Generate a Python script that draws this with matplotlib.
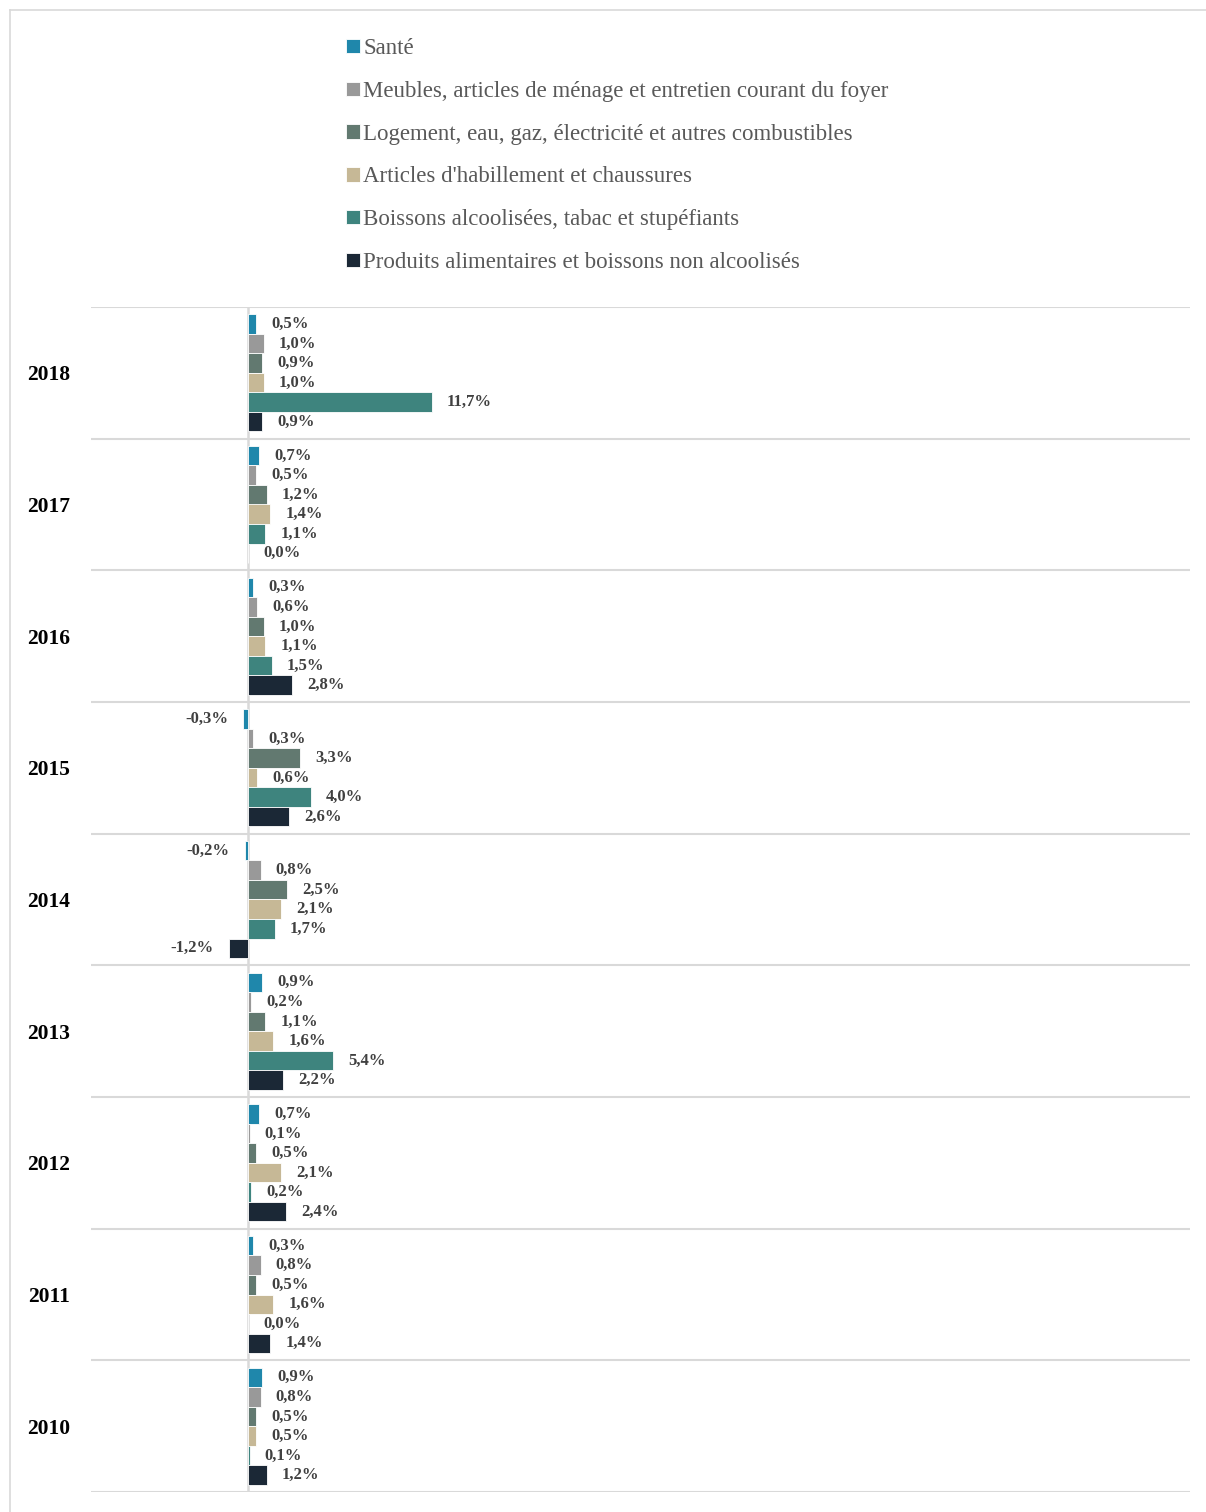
import matplotlib.pyplot as plt
from matplotlib.lines import Line2D
import numpy as np

years = ["2018", "2017", "2016", "2015", "2014", "2013", "2012", "2011", "2010"]
series_names = [
    "Santé",
    "Meubles, articles de ménage et entretien courant du foyer",
    "Logement, eau, gaz, électricité et autres combustibles",
    "Articles d'habillement et chaussures",
    "Boissons alcoolisées, tabac et stupéfiants",
    "Produits alimentaires et boissons non alcoolisés",
]
sante = [0.5, 0.7, 0.3, -0.3, -0.2, 0.9, 0.7, 0.3, 0.9]
meubles = [1.0, 0.5, 0.6, 0.3, 0.8, 0.2, 0.1, 0.8, 0.8]
logement = [0.9, 1.2, 1.0, 3.3, 2.5, 1.1, 0.5, 0.5, 0.5]
habillement = [1.0, 1.4, 1.1, 0.6, 2.1, 1.6, 2.1, 1.6, 0.5]
boissons = [11.7, 1.1, 1.5, 4.0, 1.7, 5.4, 0.2, 0.0, 0.1]
alimentaires = [0.9, 0.0, 2.8, 2.6, -1.2, 2.2, 2.4, 1.4, 1.2]
colors = ["#1f87ab", "#999999", "#627970", "#c6b896", "#3e847e", "#1b2836"]

all_series = [sante, meubles, logement, habillement, boissons, alimentaires]

plt.rcParams['font.family'] = ['Liberation Serif', 'DejaVu Serif']

fig = plt.figure(figsize=(12.06, 15.12), dpi=100)
ax = fig.add_axes([91 / 1206, 1 - 1492 / 1512, (1190 - 91) / 1206, (1492 - 307) / 1512])

y = np.arange(len(years))
h = 0.89 / 6
handles = []
for j, (vals, name, col) in enumerate(zip(all_series, series_names, colors)):
    pos = y + (j - 2.5) * h
    bars = ax.barh(pos, vals, height=h, color=col, edgecolor='white', linewidth=0.6, label=name)
    handles.append(bars)
    for p, v in zip(pos, vals):
        txt = f"{v:.1f}%".replace('.', ',')
        if v < 0:
            ax.annotate(txt, (v, p), xytext=(-11, 0), textcoords='offset points',
                        ha='right', va='center', fontsize=12, fontweight='bold', color='#404040')
        else:
            ax.annotate(txt, (v, p), xytext=(11, 0), textcoords='offset points',
                        ha='left', va='center', fontsize=12, fontweight='bold', color='#404040')

ax.set_xlim(-10, 60)
ax.set_ylim(len(years) - 0.5, -0.5)
ax.set_xticks([])
ax.set_yticks(y)
ax.set_yticklabels(years, fontsize=15.5, fontweight='bold', color='black')
ax.tick_params(axis='y', length=0, pad=15)
ax.set_yticks(np.arange(-0.5, len(years)), minor=True)
ax.tick_params(axis='y', which='minor', length=0)
ax.grid(which='minor', axis='y', color='#d9d9d9', linewidth=1.5)
ax.axvline(0, color='#d9d9d9', linewidth=1.8, zorder=0.5)
for s in ax.spines.values():
    s.set_visible(False)

# legend at top
fig.legend(handles=handles, labels=series_names, loc='upper left',
           bbox_to_anchor=(337 / 1206, 1 - 29 / 1512), frameon=False,
           fontsize=16.5, labelcolor='#595959', handlelength=0.6, handleheight=0.6,
           handletextpad=0.15, labelspacing=0.95, borderaxespad=0)

# thin frame around the chart area
fig.add_artist(Line2D([10 / 1206, 10 / 1206], [0, 1 - 10 / 1512], color='#d9d9d9', lw=1.2))
fig.add_artist(Line2D([10 / 1206, 1], [1 - 10 / 1512, 1 - 10 / 1512], color='#d9d9d9', lw=1.2))

fig.savefig("out.png", dpi=100)
